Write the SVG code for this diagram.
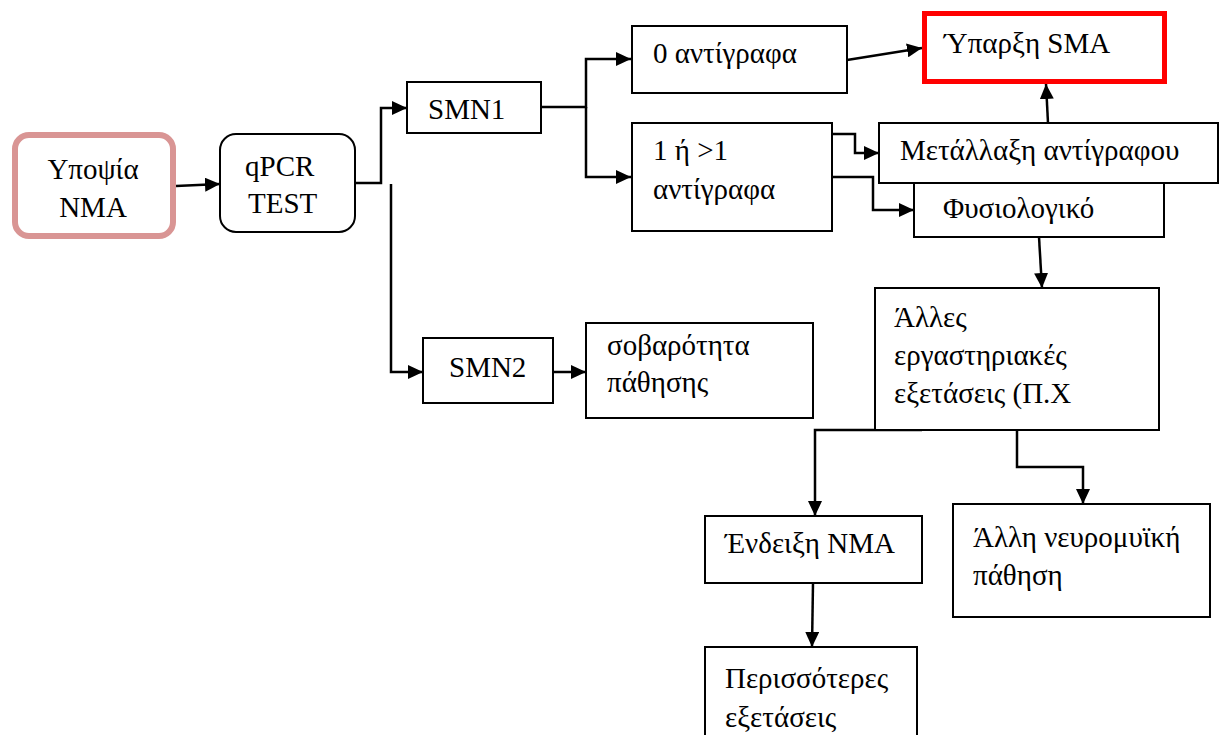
<svg xmlns="http://www.w3.org/2000/svg" width="1219" height="735" viewBox="0 0 1219 735">
<style>
.box{fill:#fff;stroke:#000;stroke-width:2}
.t{font-family:"Liberation Serif","DejaVu Serif",serif;font-size:29px;fill:#000}
.c{fill:none;stroke:#000;stroke-width:2.5}
</style>
<defs>
<marker id="ah" markerUnits="userSpaceOnUse" markerWidth="15" markerHeight="14" refX="15" refY="7" orient="auto">
<path d="M0,0 L15,7 L0,14 z" fill="#000"/>
</marker>
</defs>
<rect width="1219" height="735" fill="#fff"/>
<g id="connectors">
<path class="c" d="M176,186 L220,184" marker-end="url(#ah)"/>
<path class="c" d="M355,183 H381 V108 H407" marker-end="url(#ah)"/>
<path class="c" d="M391,184 V372 H423" marker-end="url(#ah)"/>
<path class="c" d="M541,107 H586 V59 H631" marker-end="url(#ah)"/>
<path class="c" d="M586,107 V177 H631" marker-end="url(#ah)"/>
<path class="c" d="M847,60 L922,48" marker-end="url(#ah)"/>
<path class="c" d="M832,134 H855 V153 H879" marker-end="url(#ah)"/>
<path class="c" d="M832,177 H873 V210 H914" marker-end="url(#ah)"/>
<path class="c" d="M1048,123 L1046,84" marker-end="url(#ah)"/>
<path class="c" d="M1039,237 L1042,288" marker-end="url(#ah)"/>
<path class="c" d="M922,430 H815 V516" marker-end="url(#ah)"/>
<path class="c" d="M1017,430 V467 H1083 V504" marker-end="url(#ah)"/>
<path class="c" d="M813,583 L812,647" marker-end="url(#ah)"/>
<path class="c" d="M553,372 H586" marker-end="url(#ah)"/>
</g>
<g id="n-ypopsia">
<rect x="15" y="135" width="158" height="101" rx="14" fill="#fff" stroke="#d99594" stroke-width="6"/>
<text class="t" x="93" y="179" text-anchor="middle">Υποψία</text>
<text class="t" x="93" y="217" text-anchor="middle">NMA</text>
</g>
<g id="n-qpcr">
<rect class="box" x="220" y="134" width="135" height="98" rx="16"/>
<text class="t" x="245" y="176">qPCR</text>
<text class="t" x="248" y="213">TEST</text>
</g>
<g id="n-smn1">
<rect class="box" x="407" y="82" width="134" height="51"/>
<text class="t" x="428" y="119">SMN1</text>
</g>
<g id="n-zero">
<rect class="box" x="632" y="26" width="215" height="67"/>
<text class="t" x="653" y="63">0 αντίγραφα</text>
</g>
<g id="n-one">
<rect class="box" x="632" y="123" width="200" height="108"/>
<text class="t" x="653" y="160">1 ή &gt;1</text>
<text class="t" x="653" y="199">αντίγραφα</text>
</g>
<g id="n-sma">
<rect x="924.5" y="13.5" width="240" height="68" fill="#fff" stroke="#ff0000" stroke-width="5"/>
<text class="t" x="944" y="53">Ύπαρξη SMA</text>
</g>
<g id="n-metallaxi">
<rect class="box" x="879" y="123" width="339" height="60"/>
<text class="t" x="900" y="160">Μετάλλαξη αντίγραφου</text>
</g>
<g id="n-fysiologiko">
<rect class="box" x="914" y="183" width="250" height="54"/>
<text class="t" x="943" y="218">Φυσιολογικό</text>
</g>
<g id="n-alles">
<rect class="box" x="875" y="288" width="284" height="142"/>
<text class="t" x="894" y="327">Άλλες</text>
<text class="t" x="894" y="365">εργαστηριακές</text>
<text class="t" x="894" y="403">εξετάσεις (Π.Χ</text>
</g>
<g id="n-smn2">
<rect class="box" x="423" y="338" width="130" height="65"/>
<text class="t" x="449" y="377">SMN2</text>
</g>
<g id="n-sovarotita">
<rect class="box" x="586" y="323" width="227" height="95"/>
<text class="t" x="607" y="355">σοβαρότητα</text>
<text class="t" x="607" y="392">πάθησης</text>
</g>
<g id="n-endeixi">
<rect class="box" x="705" y="516" width="217" height="67"/>
<text class="t" x="725" y="553">Ένδειξη NMA</text>
</g>
<g id="n-alli">
<rect class="box" x="953" y="504" width="257" height="113"/>
<text class="t" x="973" y="547">Άλλη νευρομυϊκή</text>
<text class="t" x="973" y="585">πάθηση</text>
</g>
<g id="n-perissoteres">
<rect class="box" x="705" y="647" width="212" height="100"/>
<text class="t" x="725" y="688">Περισσότερες</text>
<text class="t" x="725" y="727">εξετάσεις</text>
</g>
</svg>
